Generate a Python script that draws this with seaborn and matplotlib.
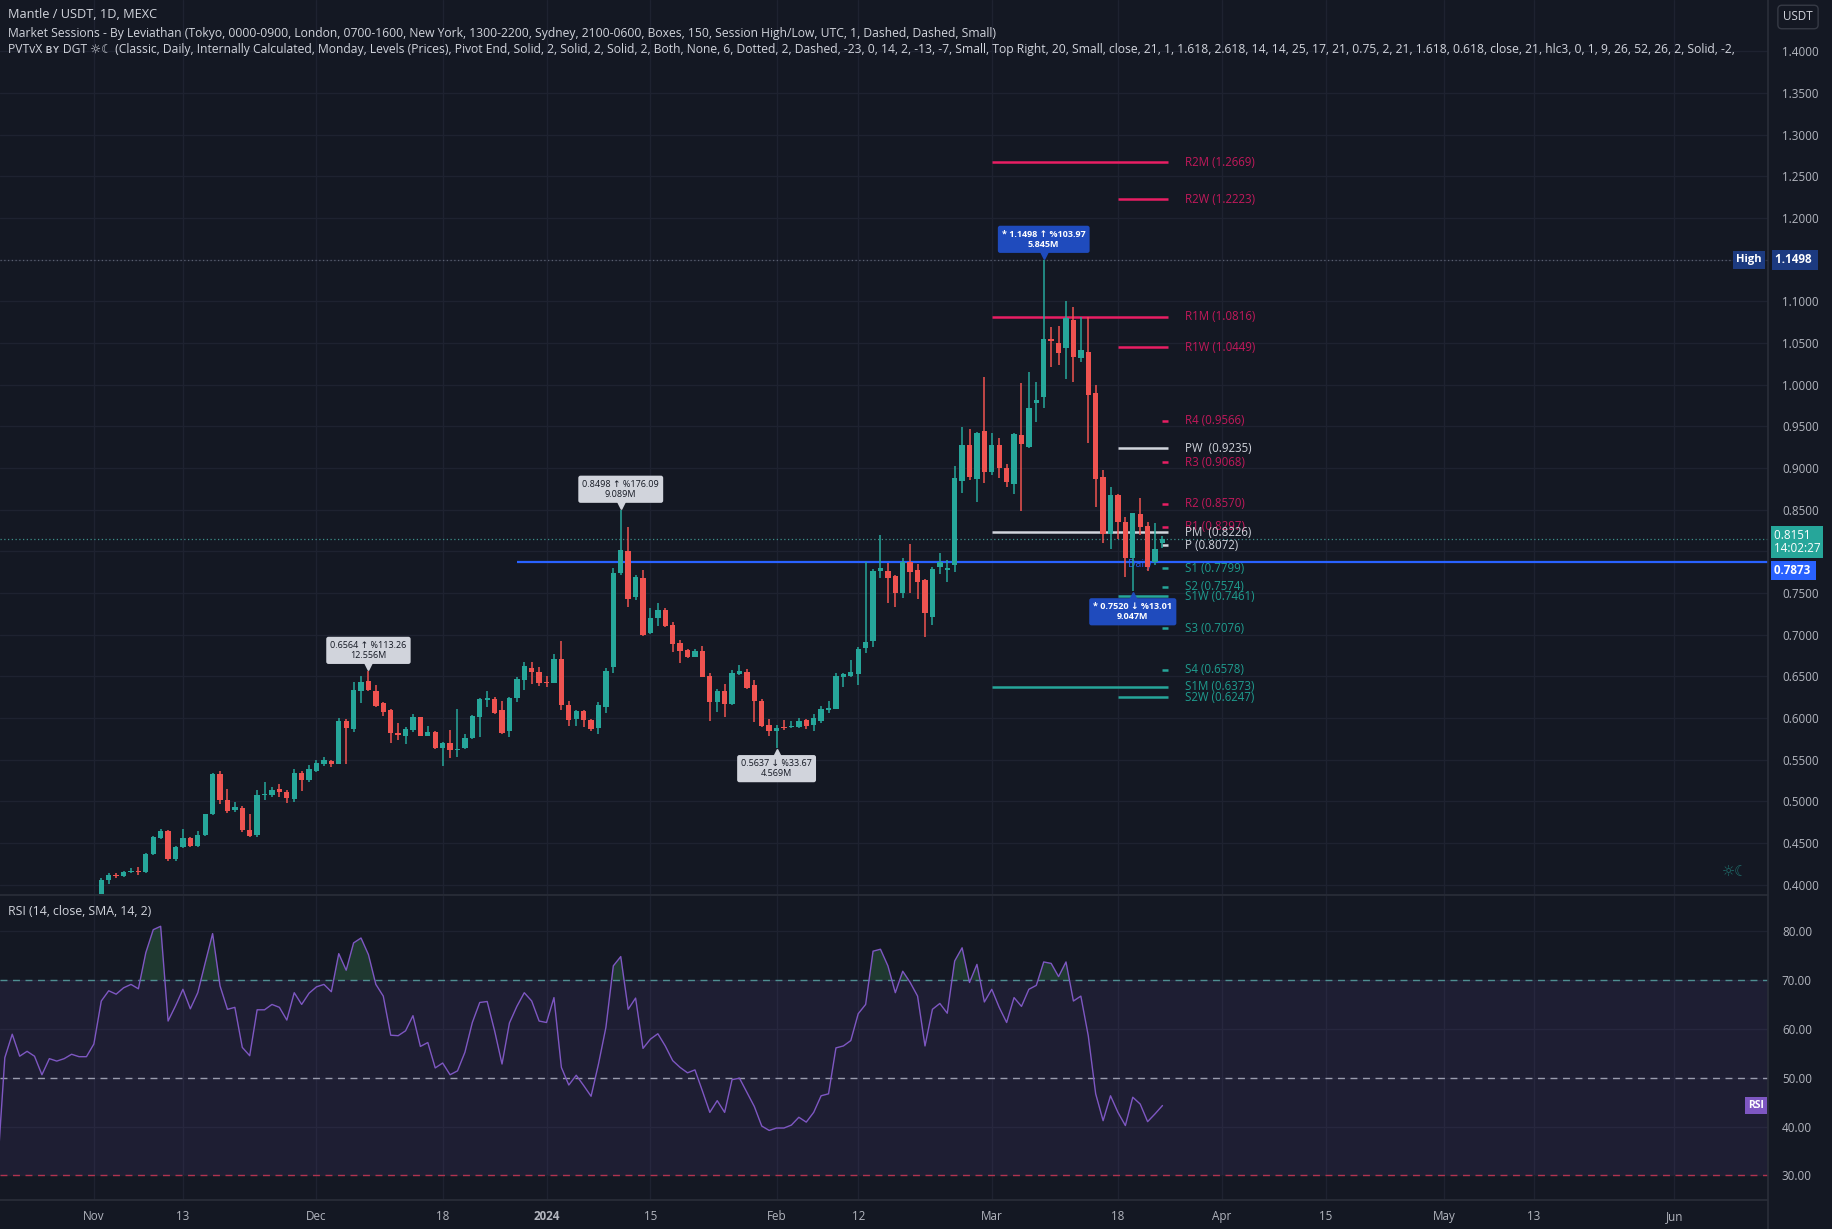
import numpy as np
import pandas as pd
import matplotlib
matplotlib.use("Agg")
import matplotlib.pyplot as plt
import matplotlib.dates as mdates
import matplotlib.transforms as mtrans
from matplotlib.lines import Line2D
import seaborn as sns

# ---------------------------------------------------------------- data
candle_start = "2023-11-02"
open_ = [0.3873, 0.4053, 0.4113, 0.4100, 0.4145, 0.4165, 0.4145, 0.4365, 0.4560, 0.4646,
         0.4301, 0.4450, 0.4553, 0.4461, 0.4589, 0.4842, 0.5326, 0.5014, 0.4894, 0.4914,
         0.4654, 0.4590, 0.5070, 0.5070, 0.5146, 0.5110, 0.5025, 0.5342, 0.5254, 0.5366,
         0.5442, 0.5482, 0.5450, 0.5962, 0.5862, 0.6327, 0.6443, 0.6327, 0.6175, 0.6095,
         0.5822, 0.5786, 0.5854, 0.6007, 0.5786, 0.5834, 0.5642, 0.5694, 0.5614, 0.5634,
         0.5754, 0.6015, 0.6215, 0.6227, 0.6095, 0.5846, 0.6235, 0.6455, 0.6603, 0.6555,
         0.6435, 0.6422, 0.6706, 0.6154, 0.5982, 0.6082, 0.5974, 0.5874, 0.6134, 0.6606,
         0.7735, 0.8003, 0.7447, 0.7675, 0.7022, 0.7194, 0.7294, 0.7114, 0.6902, 0.6814,
         0.6734, 0.6802, 0.6502, 0.6194, 0.6322, 0.6162, 0.6522, 0.6554, 0.6394, 0.6206,
         0.5914, 0.5846, 0.5894, 0.5886, 0.5894, 0.5974, 0.5914, 0.5966, 0.6094, 0.6106,
         0.6494, 0.6502, 0.6526, 0.6834, 0.6926, 0.7763, 0.7763, 0.7703, 0.7503, 0.7875,
         0.7775, 0.7655, 0.7215, 0.7815, 0.7775, 0.7835, 0.8847, 0.9275, 0.8863, 0.9443,
         0.8955, 0.9275, 0.8995, 0.8803, 0.9395, 0.9247, 0.9783, 0.9847, 1.0544, 1.0504,
         1.0436, 1.0776, 1.0316, 1.0396, 0.9896, 0.8887, 0.8207, 0.8675, 0.8355, 0.7915,
         0.8447, 0.8303, 0.7875, 0.8095]
high = [0.4073, 0.4141, 0.4133, 0.4161, 0.4201, 0.4205, 0.4381, 0.4582, 0.4670, 0.4654,
        0.4461, 0.4662, 0.4566, 0.4646, 0.4846, 0.5342, 0.5366, 0.5142, 0.4994, 0.4942,
        0.4846, 0.5134, 0.5234, 0.5166, 0.5206, 0.5134, 0.5382, 0.5366, 0.5434, 0.5494,
        0.5534, 0.5494, 0.5995, 0.5986, 0.6435, 0.6503, 0.6564, 0.6395, 0.6195, 0.6103,
        0.5942, 0.5886, 0.6047, 0.6015, 0.5902, 0.5842, 0.5714, 0.5854, 0.6103, 0.5806,
        0.6035, 0.6235, 0.6327, 0.6247, 0.6203, 0.6255, 0.6495, 0.6675, 0.6675, 0.6615,
        0.6503, 0.6762, 0.6922, 0.6202, 0.6094, 0.6094, 0.5982, 0.6194, 0.6594, 0.7795,
        0.8498, 0.8287, 0.7715, 0.7775, 0.7314, 0.7383, 0.7314, 0.7154, 0.6934, 0.6822,
        0.6822, 0.6862, 0.6534, 0.6342, 0.6406, 0.6574, 0.6634, 0.6582, 0.6454, 0.6226,
        0.5982, 0.5914, 0.5974, 0.5966, 0.5994, 0.5982, 0.6046, 0.6142, 0.6202, 0.6534,
        0.6542, 0.6694, 0.6854, 0.7875, 0.7783, 0.8195, 0.7863, 0.7715, 0.7923, 0.8083,
        0.7843, 0.7663, 0.7815, 0.7975, 0.7895, 0.9023, 0.9495, 0.9463, 0.9435, 1.0088,
        0.9423, 0.9355, 0.9047, 0.9423, 1.0016, 1.0156, 1.0036, 1.1498, 1.0688, 1.0704,
        1.1008, 1.0936, 1.0808, 1.0816, 0.9996, 0.8975, 0.8775, 0.8687, 0.8415, 0.8463,
        0.8635, 0.8355, 0.8343, 0.8183]
low = [0.3863, 0.4001, 0.4081, 0.4085, 0.4133, 0.4113, 0.4133, 0.4353, 0.4545, 0.4281,
       0.4281, 0.4441, 0.4445, 0.4445, 0.4582, 0.4834, 0.4966, 0.4854, 0.4870, 0.4634,
       0.4574, 0.4574, 0.5014, 0.5054, 0.5054, 0.4974, 0.4994, 0.5126, 0.5226, 0.5354,
       0.5422, 0.5414, 0.5446, 0.5446, 0.5834, 0.6183, 0.6327, 0.6127, 0.6023, 0.5702,
       0.5734, 0.5682, 0.5834, 0.5782, 0.5782, 0.5630, 0.5426, 0.5522, 0.5534, 0.5622,
       0.5746, 0.5774, 0.6127, 0.6047, 0.5806, 0.5774, 0.6195, 0.6335, 0.6407, 0.6383,
       0.6367, 0.6414, 0.6094, 0.5902, 0.5906, 0.5894, 0.5846, 0.5802, 0.6054, 0.6534,
       0.7715, 0.7326, 0.7415, 0.6982, 0.7006, 0.7102, 0.7086, 0.6794, 0.6662, 0.6722,
       0.6726, 0.6486, 0.5962, 0.6074, 0.6014, 0.6154, 0.6514, 0.6350, 0.5954, 0.5886,
       0.5786, 0.5637, 0.5854, 0.5874, 0.5874, 0.5862, 0.5846, 0.5934, 0.6054, 0.6102,
       0.6374, 0.6494, 0.6394, 0.6782, 0.6854, 0.7675, 0.7383, 0.7335, 0.7443, 0.7503,
       0.7423, 0.6975, 0.7115, 0.7727, 0.7635, 0.7755, 0.8703, 0.8855, 0.8595, 0.8815,
       0.8915, 0.8875, 0.8775, 0.8687, 0.8487, 0.9235, 0.9555, 0.9715, 1.0216, 1.0236,
       1.0064, 1.0036, 1.0276, 0.9303, 0.8535, 0.8095, 0.8023, 0.8143, 0.7687, 0.7520,
       0.8195, 0.7767, 0.7835, 0.8035]
close = [0.4053, 0.4113, 0.4105, 0.4145, 0.4165, 0.4145, 0.4365, 0.4566, 0.4646, 0.4301,
         0.4453, 0.4553, 0.4461, 0.4589, 0.4846, 0.5326, 0.5014, 0.4886, 0.4934, 0.4654,
         0.4586, 0.5074, 0.5082, 0.5134, 0.5106, 0.5034, 0.5342, 0.5254, 0.5386, 0.5460,
         0.5494, 0.5442, 0.5962, 0.5874, 0.6335, 0.6435, 0.6335, 0.6143, 0.6075, 0.5814,
         0.5794, 0.5866, 0.6015, 0.5786, 0.5830, 0.5642, 0.5694, 0.5614, 0.5630, 0.5762,
         0.6023, 0.6223, 0.6235, 0.6055, 0.5814, 0.6235, 0.6463, 0.6623, 0.6547, 0.6415,
         0.6415, 0.6702, 0.6154, 0.5974, 0.6082, 0.5974, 0.5862, 0.6154, 0.6562, 0.7735,
         0.8015, 0.7423, 0.7687, 0.6994, 0.7194, 0.7294, 0.7102, 0.6886, 0.6802, 0.6734,
         0.6802, 0.6494, 0.6194, 0.6326, 0.6162, 0.6534, 0.6562, 0.6362, 0.6206, 0.5906,
         0.5846, 0.5882, 0.5874, 0.5906, 0.5966, 0.5902, 0.5994, 0.6106, 0.6118, 0.6502,
         0.6522, 0.6546, 0.6822, 0.6914, 0.7763, 0.7795, 0.7683, 0.7503, 0.7867, 0.7755,
         0.7635, 0.7263, 0.7783, 0.7867, 0.7795, 0.8875, 0.9275, 0.8887, 0.9423, 0.8955,
         0.9275, 0.8995, 0.8835, 0.9407, 0.9287, 0.9716, 0.9811, 1.0548, 1.0528, 1.0376,
         1.0796, 1.0328, 1.0416, 0.9876, 0.8863, 0.8207, 0.8675, 0.8355, 0.7915, 0.8455,
         0.8295, 0.7807, 0.8023, 0.8151]

rsi_start = "2023-10-19"
rsi_values = [31.0, 54.1, 58.9, 54.4, 55.4, 54.4, 50.6, 53.9, 53.4, 53.9,
              54.8, 54.3, 54.3, 56.9, 65.7, 67.8, 67.1, 68.4, 69.1, 68.2,
              75.6, 80.3, 81.0, 61.6, 64.7, 68.1, 64.1, 67.4, 73.5, 79.5,
              68.8, 64.0, 64.4, 56.2, 54.5, 63.9, 63.9, 65.0, 64.4, 61.8,
              67.4, 65.0, 67.3, 68.6, 69.1, 67.6, 75.4, 72.0, 77.6, 78.6,
              75.2, 69.1, 66.7, 58.7, 58.6, 59.6, 62.7, 56.4, 57.2, 52.0,
              53.0, 50.6, 51.4, 55.2, 61.3, 65.4, 65.6, 59.6, 52.8, 61.2,
              64.6, 67.4, 65.7, 61.6, 61.3, 66.4, 52.1, 48.5, 50.5, 48.4,
              46.2, 52.8, 60.3, 72.9, 74.8, 64.0, 66.3, 56.0, 57.9, 59.0,
              56.5, 53.5, 52.1, 51.0, 51.6, 47.3, 42.9, 45.3, 42.9, 49.6,
              49.9, 47.0, 44.1, 40.1, 39.2, 39.7, 39.7, 40.3, 41.9, 40.9,
              42.9, 46.3, 46.7, 56.1, 56.5, 57.6, 63.1, 65.0, 75.9, 76.3,
              72.9, 67.4, 71.8, 69.5, 66.7, 56.5, 64.0, 65.2, 63.2, 73.9,
              76.6, 69.5, 73.2, 65.5, 68.1, 64.4, 61.3, 66.4, 64.6, 68.1,
              68.9, 73.7, 73.4, 70.7, 73.7, 65.7, 66.7, 58.6, 46.7, 41.2,
              46.3, 42.9, 40.2, 46.0, 44.6, 41.0, 42.6, 44.3]

pivot_names = ["R2M", "R2W", "R1M", "R1W", "R4", "PW", "R3", "R2", "R1", "PM",
               "P", "S1", "S2", "S1W", "S3", "S4", "S1M", "S2W"]
pivot_values = [1.2669, 1.2223, 1.0816, 1.0449, 0.9566, 0.9235, 0.9068, 0.8570, 0.8297, 0.8226,
                0.8072, 0.7799, 0.7574, 0.7461, 0.7076, 0.6578, 0.6373, 0.6247]
pivot_period = ["M", "W", "M", "W", "D", "W", "D", "D", "D", "M",
                "D", "D", "D", "W", "D", "D", "M", "W"]
period_start = {"M": "2024-03-01", "W": "2024-03-18", "D": "2024-03-24"}

hl_labels = [("2023-12-08", 0.6564, "0.6564 ↑ %113.26\n12.556M", "grey", True),
             ("2024-01-11", 0.8498, "0.8498 ↑ %176.09\n9.089M", "grey", True),
             ("2024-02-01", 0.5637, "0.5637 ↓ %33.67\n4.569M", "grey", False),
             ("2024-03-08", 1.1498, "* 1.1498 ↑ %103.97\n5.845M", "blue", True),
             ("2024-03-20", 0.7520, "* 0.7520 ↓ %13.01\n9.047M", "blue", False)]

hline_value = 0.7873
hline_start = "2023-12-28"
session_high = 1.1498
last_price = 0.8151

tick_dates = ["2023-11-01", "2023-11-13", "2023-12-01", "2023-12-18", "2024-01-01",
              "2024-01-15", "2024-02-01", "2024-02-12", "2024-03-01", "2024-03-18",
              "2024-04-01", "2024-04-15", "2024-05-01", "2024-05-13", "2024-06-01"]
tick_labels = ["Nov", "13", "Dec", "18", "2024", "15", "Feb", "12", "Mar", "18",
               "Apr", "15", "May", "13", "Jun"]
price_ticks = [round(0.40 + 0.05 * i, 2) for i in range(21)]
hidden_price_ticks = [0.80, 1.15]
rsi_ticks = [30, 40, 50, 60, 70, 80]

legend_lines = [
    "Mantle / USDT, 1D, MEXC",
    "Market Sessions - By Leviathan (Tokyo, 0000-0900, London, 0700-1600, New York, 1300-2200, Sydney, 2100-0600, Boxes, 150, Session High/Low, UTC, 1, Dashed, Dashed, Small)",
    "PVTvX ʙʏ DGT ☼☾ (Classic, Daily, Internally Calculated, Monday, Levels (Prices), Pivot End, Solid, 2, Solid, 2, Solid, 2, Both, None, 6, Dotted, 2, Dashed, -23, 0, 14, 2, -13, -7, Small, Top Right, 20, Small, close, 21, 1, 1.618, 2.618, 14, 14, 25, 17, 21, 0.75, 2, 21, 1.618, 0.618, close, 21, hlc3, 0, 1, 9, 26, 52, 26, 2, Solid, -2,",
]

# ---------------------------------------------------------------- style
BG = "#141823"
GRID = "#1e2230"
TEXT = "#b2b5be"
LEG = "#d1d4dc"
UP = "#26a69a"
DOWN = "#ef5350"
RCOL = "#e91e63"
RTXT = "#c2185b"
SCOL = "#26a69a"
STXT = "#1f9d8f"
PCOL = "#d1d4dc"
BLUE = "#2962ff"
LBLUE = "#1f4bbd"
PURPLE = "#7e57c2"

sns.set_theme(style="dark", rc={"axes.facecolor": BG, "figure.facecolor": BG,
                                "axes.edgecolor": BG, "text.color": TEXT,
                                "xtick.color": TEXT, "ytick.color": TEXT})
plt.rcParams["font.family"] = ["Open Sans", "DejaVu Sans"]

W, H = 1832, 1229
fig = plt.figure(figsize=(W / 100, H / 100), dpi=100, facecolor=BG)
PANE_R = 1768
ax = fig.add_axes([0, 1 - 894 / H, PANE_R / W, 894 / H])
axr = fig.add_axes([0, 1 - 1200 / H, PANE_R / W, (1200 - 896) / H], sharex=ax)
for a in (ax, axr):
    a.set_facecolor(BG)
    for s in a.spines.values():
        s.set_visible(False)

base = mdates.date2num(pd.Timestamp("2023-11-01"))
ax.set_xlim(base - 12.65, base + 225.6)
ax.set_ylim(0.3886, 1.4617)
axr.set_ylim(24.96, 87.2)

# grid
xt = mdates.date2num(pd.to_datetime(tick_dates))
for a in (ax, axr):
    a.set_xticks(xt)
    a.grid(True, color=GRID, linewidth=1.0)
ax.set_yticks(price_ticks)
ax.set_yticklabels(["" if any(abs(v - hv) < 1e-9 for hv in hidden_price_ticks) else f"{v:.4f}"
                    for v in price_ticks])
ax.yaxis.tick_right()
ax.tick_params(axis="y", length=0, pad=10, labelsize=8.4, labelcolor=TEXT)
ax.tick_params(axis="x", length=0, labelbottom=False)
axr.set_yticks(rsi_ticks)
axr.set_yticklabels([f"{v:.2f}" for v in rsi_ticks])
axr.yaxis.tick_right()
axr.tick_params(axis="y", length=0, pad=10, labelsize=8.4, labelcolor=TEXT)
axr.set_xticklabels(tick_labels)
axr.tick_params(axis="x", length=0, pad=7, labelsize=8.4, labelcolor=TEXT)
for t in axr.get_xticklabels():
    if t.get_text() == "2024":
        t.set_fontweight("bold")

# ---------------------------------------------------------------- candles
dates = pd.date_range(candle_start, periods=len(close), freq="D")
xs = mdates.date2num(dates)
o = np.array(open_); h = np.array(high); l = np.array(low); c = np.array(close)
cols = np.where(c >= o, UP, DOWN)
ax.vlines(xs, l, h, colors=cols, linewidth=1.1, zorder=5)
body = np.maximum(np.abs(c - o), 0.0014)
ax.bar(xs, body, bottom=np.minimum(o, c), width=0.72, color=cols, linewidth=0, zorder=6)

btr = mtrans.blended_transform_factory(ax.transAxes, ax.transData)

# dotted lines: session high and last price
ax.axhline(session_high, color="#5a6070", linestyle=(0, (1, 2)), linewidth=0.9, zorder=2)
ax.axhline(last_price, color="#3c8f8a", linestyle=(0, (1, 2)), linewidth=0.9, zorder=2)

# blue horizontal line
hx0 = mdates.date2num(pd.Timestamp(hline_start))
ax.hlines(hline_value, hx0, base + 240, color=BLUE, linewidth=1.6, zorder=4)
ax.text(mdates.date2num(pd.Timestamp("2024-03-21")), hline_value - 0.003, "Daily",
        color=BLUE, fontsize=7.5, ha="center", va="center", alpha=0.9, zorder=4)

# pivot levels
line_end = mdates.date2num(pd.Timestamp("2024-03-24")) + 0.8
lab_x = mdates.date2num(pd.Timestamp("2024-03-27"))
for name, val, per in zip(pivot_names, pivot_values, pivot_period):
    if name.startswith("R"):
        lc, tc = RCOL, RTXT
    elif name.startswith("S"):
        lc, tc = SCOL, STXT
    else:
        lc, tc = PCOL, PCOL
    x0 = mdates.date2num(pd.Timestamp(period_start[per]))
    ax.hlines(val, x0, line_end, color=lc, linewidth=1.8, zorder=3)
    label = f"{name}  ({val:.4f})" if name in ("PW", "PM") else f"{name} ({val:.4f})"
    ax.text(lab_x, val, label, color=tc, fontsize=8.3, ha="left", va="center",
            zorder=8 if name.startswith("P") else 7)

# high / low callouts
for d, v, txt, kind, above in hl_labels:
    xd = mdates.date2num(pd.Timestamp(d))
    fc = LBLUE if kind == "blue" else "#d1d4dc"
    tc = "white" if kind == "blue" else "#131722"
    off = 11 if above else -11
    ax.annotate(txt, xy=(xd, v), xytext=(0, off), textcoords="offset pixels",
                ha="center", va="bottom" if above else "top", fontsize=6.5,
                color=tc, linespacing=1.15, fontweight="bold" if kind == "blue" else "normal",
                bbox=dict(boxstyle="round,pad=0.45,rounding_size=0.25", fc=fc, ec="none"),
                zorder=12)
    tri = ax.transData + mtrans.ScaledTranslation(0, (5 if above else -5) / 100, fig.dpi_scale_trans)
    ax.plot([xd], [v], marker="v" if above else "^", markersize=6, color=fc,
            transform=tri, zorder=12, linestyle="none")

# right axis price boxes
ax.text(0.9965, session_high, "High", transform=btr, ha="right", va="center", fontsize=8,
        color="white", fontweight="bold", zorder=20,
        bbox=dict(boxstyle="square,pad=0.3", fc="#1c3a80", ec="none"))
ax.annotate("1.1498 ", xy=(1.0, session_high), xycoords=btr, xytext=(7, 0),
            textcoords="offset pixels", ha="left", va="center", fontsize=8.4, color="white",
            fontweight="bold", zorder=20, annotation_clip=False,
            bbox=dict(boxstyle="square,pad=0.3", fc="#1c3a80", ec="none"))
ax.annotate("0.8151  \n14:02:27", xy=(1.0, last_price), xycoords=btr, xytext=(6, 10),
            textcoords="offset pixels", ha="left", va="top", fontsize=8.4, color="white",
            linespacing=1.0, zorder=20, annotation_clip=False,
            bbox=dict(boxstyle="square,pad=0.25", fc=UP, ec="none"))
ax.annotate("0.7873 ", xy=(1.0, hline_value), xycoords=btr, xytext=(6, -9),
            textcoords="offset pixels", ha="left", va="center", fontsize=8.4, color="white",
            fontweight="bold", zorder=21, annotation_clip=False,
            bbox=dict(boxstyle="square,pad=0.25", fc=BLUE, ec="none"))

# session icon
ax.text(0.9815, 0.025, "☼☾", transform=ax.transAxes, color=UP, alpha=0.6, fontsize=10.5,
        ha="center", va="center", family=["DejaVu Sans"])

# ---------------------------------------------------------------- RSI
rsi_dates = pd.date_range(rsi_start, periods=len(rsi_values), freq="D")
rsi_df = pd.DataFrame({"x": mdates.date2num(rsi_dates), "rsi": rsi_values})
axr.axhspan(30, 70, color=PURPLE, alpha=0.10, linewidth=0, zorder=1)
axr.axhline(70, color="#4f8f92", linestyle=(0, (5, 4)), linewidth=1.0, zorder=2)
axr.axhline(50, color="#9a9cae", linestyle=(0, (5, 4)), linewidth=1.0, zorder=2)
axr.axhline(30, color="#b0334f", linestyle=(0, (5, 4)), linewidth=1.0, zorder=2)
rv = np.array(rsi_values)
axr.fill_between(rsi_df["x"], 70, rv, where=rv >= 70, interpolate=True,
                 color="#3f8f55", alpha=0.28, linewidth=0, zorder=2)
sns.lineplot(data=rsi_df, x="x", y="rsi", ax=axr, color=PURPLE, linewidth=1.0, zorder=4)
axr.set_xlabel("")
axr.set_ylabel("")
axr.set_xlim(base - 12.65, base + 225.6)
axr.text(0.0045, 0.95, "RSI (14, close, SMA, 14, 2)", transform=axr.transAxes, color=LEG,
         fontsize=8.8, ha="left", va="center")
axr.text(0.9975, rsi_values[-1], "RSI", transform=mtrans.blended_transform_factory(axr.transAxes, axr.transData),
         ha="right", va="center", fontsize=7.5, color="white", fontweight="bold", zorder=10,
         bbox=dict(boxstyle="square,pad=0.3", fc=PURPLE, ec="none"))

# ---------------------------------------------------------------- legend text
renderer = fig.canvas.get_renderer()
ys = [15, 33, 50]
texts = []
for ln, yp in zip(legend_lines, ys):
    t = ax.text(8 / PANE_R, (894 - yp) / 894, ln, transform=ax.transAxes, color=LEG,
                fontsize=9, ha="left", va="center", zorder=30, clip_on=True)
    texts.append(t)
bb = texts[1].get_window_extent(renderer)
fs = 9 * 995 / bb.width
for t in texts:
    t.set_fontsize(fs)
texts[0].set_fontsize(fs * 1.05)

# USDT box
fig.text(1798 / W, 1 - 17 / H, "USDT", ha="center", va="center", fontsize=8.4, color=LEG,
         bbox=dict(boxstyle="round,pad=0.45,rounding_size=0.35", fc=BG, ec="#363a45", lw=1))

# separators
for seg in [((0, PANE_R / W), (1 - 895 / H, 1 - 895 / H)),
            ((0, PANE_R / W), (1 - 1200 / H, 1 - 1200 / H)),
            ((PANE_R / W, PANE_R / W), (0, 1))]:
    fig.add_artist(Line2D(seg[0], seg[1], color="#2a2e39", linewidth=1.2, transform=fig.transFigure))

fig.savefig("out.png", dpi=100, facecolor=BG)
